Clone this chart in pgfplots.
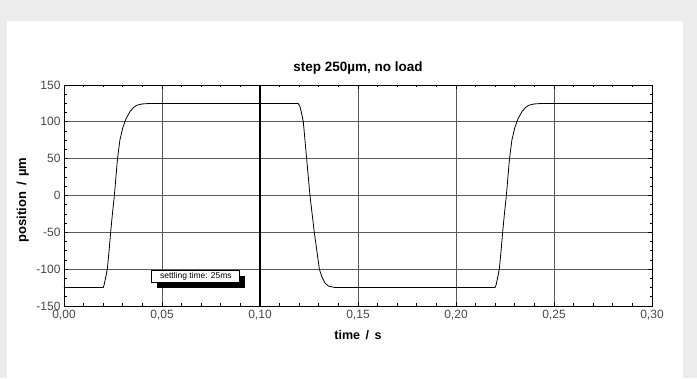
\documentclass[border=0pt]{standalone}
\usepackage{pgfplots}
\pgfplotsset{compat=1.18}
\usepackage{fontspec}
\setmainfont{Liberation Sans}
\usetikzlibrary{shadows}
\definecolor{bggray}{HTML}{ECECEC}
\begin{document}
\begin{tikzpicture}[x=1pt,y=1pt]
\fill[bggray] (0,0) rectangle (697,378);
\fill[white] (7,0) rectangle (683,357);
\begin{axis}[
  at={(64pt,72pt)}, anchor=south west, scale only axis,
  width=588pt, height=221pt,
  xmin=0, xmax=0.3, ymin=-150, ymax=150,
  xtick={0,0.05,0.1,0.15,0.2,0.25,0.3},
  xticklabels={{0,00},{0,05},{0,10},{0,15},{0,20},{0,25},{0,30}},
  ytick={-150,-100,-50,0,50,100,150},
  /pgf/number format/assume math mode=true,
  minor x tick num=4, minor y tick num=3,
  tick align=inside, xtick pos=both, ytick pos=both,
  major tick length=4pt, minor tick length=2.5pt,
  tick style={black, line width=0.8pt},
  grid=major,
  major grid style={black!65, line width=0.7pt},
  extra x ticks={0.1}, extra x tick labels={},
  extra x tick style={grid=major, major grid style={black, line width=1.3pt}},
  axis line style={black, line width=0.9pt},
  tick label style={font=\fontsize{12}{14}\selectfont, text=black!72},
  xticklabel style={yshift=-1pt},
  title={\bfseries step 250µm, no load},
  title style={font=\fontsize{13.5}{15}\selectfont, at={(0.5,1)}, anchor=base, yshift=7.7pt},
  xlabel={\bfseries time \,/\, s},
  ylabel={\bfseries position \,/\, µm},
  label style={font=\fontsize{12.5}{14}\selectfont},
  xlabel style={at={(axis description cs:0.5,-0.13)}, anchor=center},
  ylabel style={at={(axis description cs:-0.07,0.48)}, anchor=center, font=\fontsize{13}{15}\selectfont},
]
\addplot[black, line width=0.8pt] coordinates {
(0,-125) (0.0200,-125) (0.0205,-121) (0.0212,-112) (0.0221,-100) (0.0230,-75)
(0.0238,-50) (0.0247,-25) (0.0257,0) (0.0265,25) (0.0273,50) (0.0285,75)
(0.0300,92) (0.0316,104) (0.0337,114) (0.0355,119.5) (0.0371,122.5) (0.0400,124.3)
(0.0440,125) (0.1195,125) (0.1205,120) (0.1215,108) (0.1221,100) (0.1238,50)
(0.1255,0) (0.1277,-50) (0.1303,-100) (0.1315,-110) (0.1332,-119) (0.1350,-123)
(0.1383,-125) (0.2199,-125) (0.2205,-121) (0.2212,-112) (0.2221,-100) (0.2230,-75)
(0.2238,-50) (0.2247,-25) (0.2257,0) (0.2265,25) (0.2273,50) (0.2285,75)
(0.2300,92) (0.2316,104) (0.2337,114) (0.2355,119.5) (0.2371,122.5) (0.2400,124.3)
(0.2440,125) (0.3000,125)
};
\node[draw, fill=white, line width=0.9pt, font=\fontsize{8.5}{10}\selectfont,
  inner sep=1pt, minimum width=88pt, minimum height=12pt,
  drop shadow={shadow xshift=5pt, shadow yshift=-5pt, fill=black, opacity=1}]
  at (axis cs:0.0673,-110) {settling time: 25ms};
\end{axis}
\end{tikzpicture}
\end{document}
